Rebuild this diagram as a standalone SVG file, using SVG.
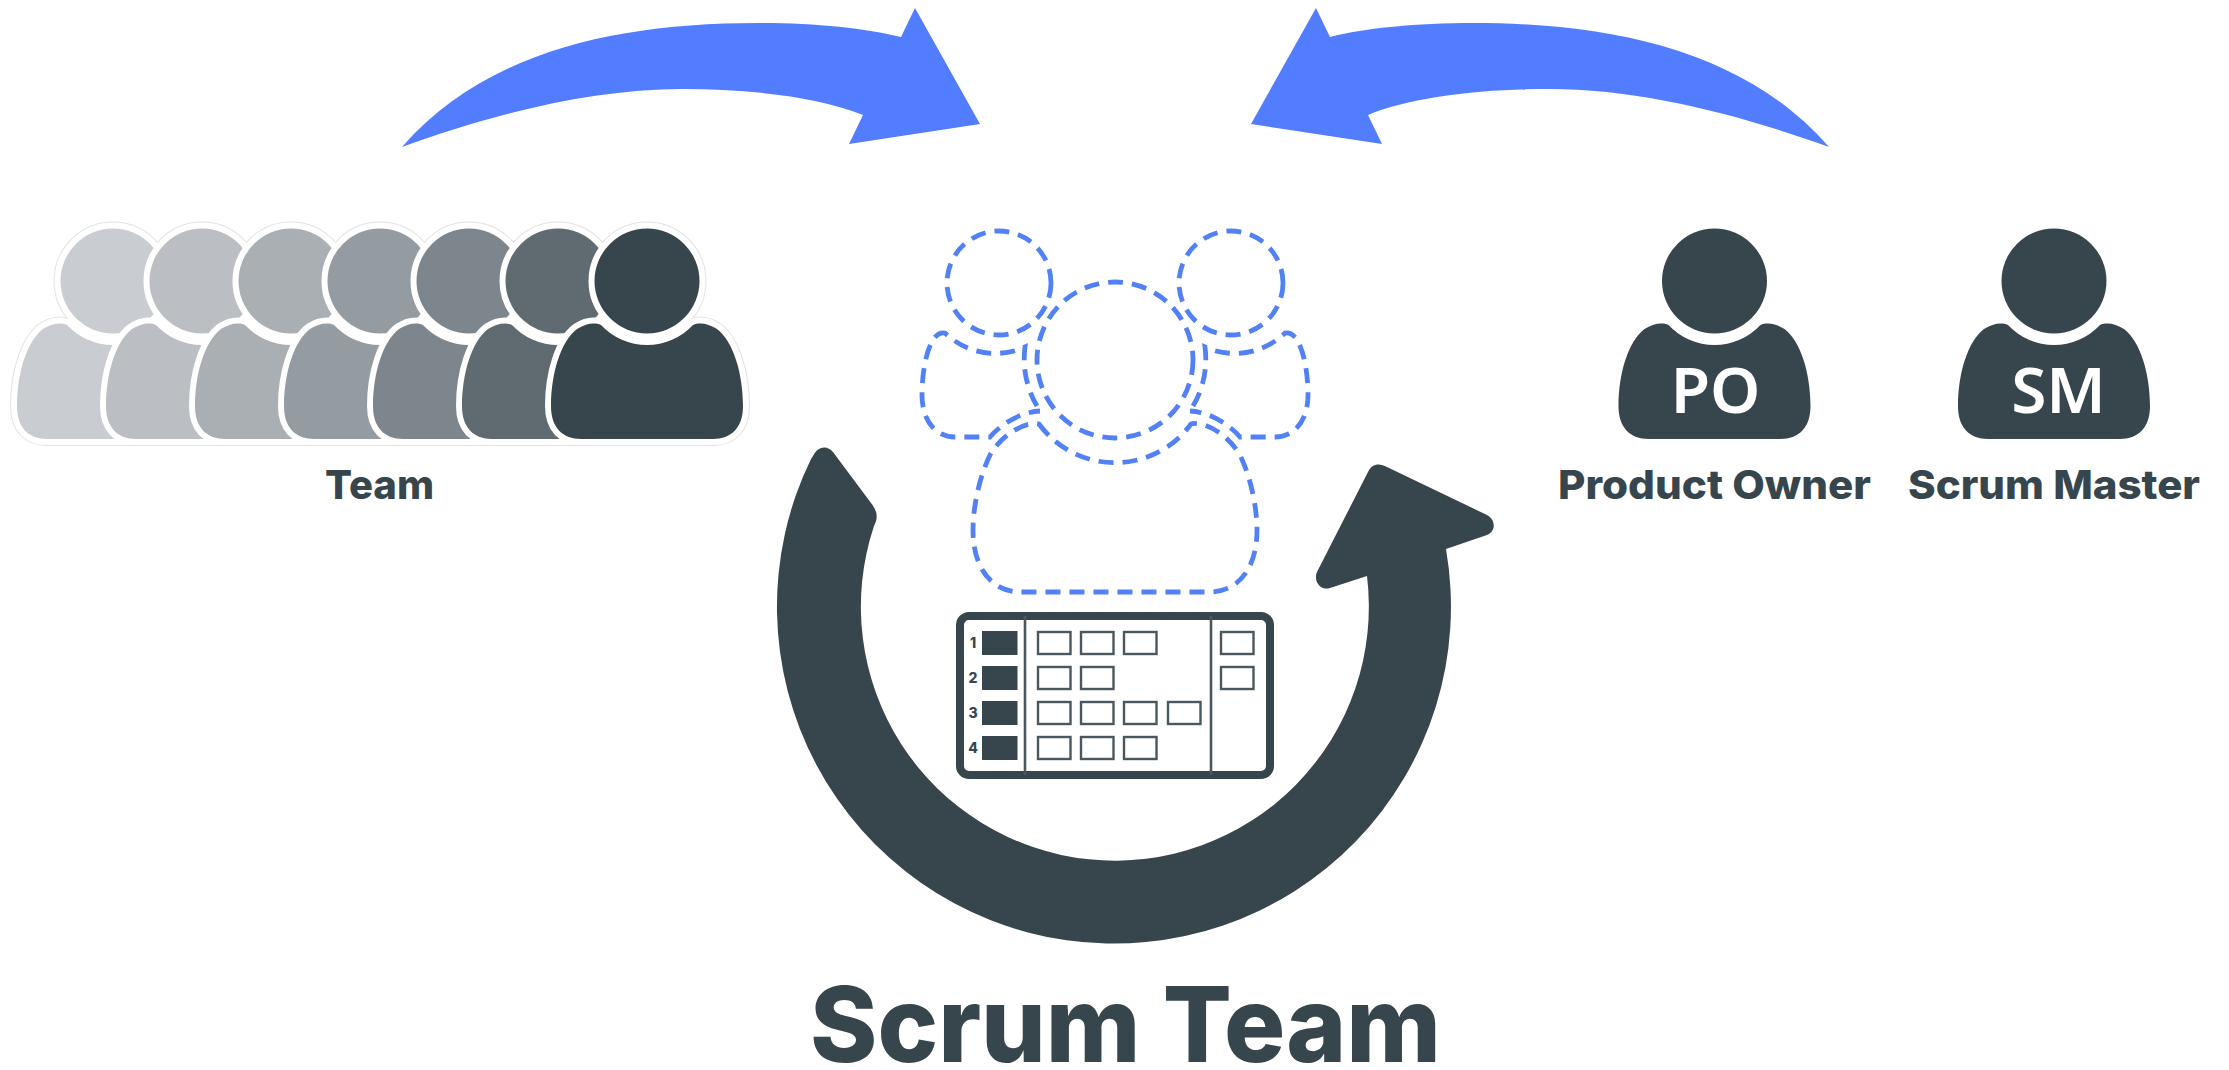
<svg xmlns="http://www.w3.org/2000/svg" width="2229" height="1070" viewBox="0 0 2229 1070">
<style>
.lbl{font-family:"Inter","Lato","Liberation Sans",sans-serif;font-weight:800;fill:#37454d}
.ini{font-family:"Noto Sans","Open Sans",sans-serif;font-weight:600;font-size:64px;fill:#fff;text-anchor:middle}
.dash{fill:none;stroke:#5280f5;stroke-width:4.8;stroke-dasharray:15 9}
.blue{fill:#527dff}
.dark{fill:#37454d}
.halo{stroke:#fff;stroke-width:12;stroke-linejoin:round;paint-order:stroke fill}
.edge{stroke:#e2e3e5;stroke-width:14;stroke-linejoin:round;fill:#fff;paint-order:stroke fill}
.cell{fill:#fff;stroke:#4b575f;stroke-width:2.4}
.num{font-family:"Inter","Liberation Sans",sans-serif;font-weight:800;font-size:14px;fill:#37454d;text-anchor:middle}
</style>
<defs>
<g id="person">
<circle cx="0" cy="0" r="52.5"/>
<path d="M-46,44 A63,63 0 0 0 46,44 C53,41 62,43 70,48 C86,60 96,92 96,125 C96,147 84,158 66,158 L-66,158 C-84,158 -96,147 -96,125 C-96,92 -86,60 -70,48 C-62,43 -53,41 -46,44Z"/>
</g>
</defs>
<rect width="2229" height="1070" fill="#fff"/>
<g id="connectors">
<path id="arrow-team" class="blue" d="M402,147 C485,52 615,23 758,23 C815,23 865,28 901,37 L915,8 L980,124 L849,144 L863,115 C820,97 750,89 682,89 C590,89 490,115 402,147Z"/>
<path id="arrow-roles" class="blue" d="M1829,147 C1746,52 1616,23 1473,23 C1416,23 1366,28 1330,37 L1316,8 L1251,124 L1382,144 L1368,115 C1411,97 1481,89 1549,89 C1641,89 1741,115 1829,147Z"/>
<path id="cycle-arrow" class="dark" d="M813,456 C818,446 827,445 833,452 L871,503 C878,512 878,518 874,526 A254,254 0 1 0 1367,576 L1330,588 C1320,591 1312,580 1318,570 L1368,472 C1372,463 1380,463 1387,467 L1487,515 C1496,520 1496,531 1487,535 L1446,549 A337,337 0 1 1 811,459 Z"/>
</g>
<g id="team">
<g id="team-edge" class="edge">
<use href="#person" x="113" y="281"/><use href="#person" x="202" y="281"/><use href="#person" x="291" y="281"/><use href="#person" x="380" y="281"/><use href="#person" x="469" y="281"/><use href="#person" x="558" y="281"/><use href="#person" x="647" y="281"/>
</g>
<g id="member-1" class="halo" fill="#c9ccd1"><use href="#person" x="113" y="281"/></g>
<g id="member-2" class="halo" fill="#bbbec3"><use href="#person" x="202" y="281"/></g>
<g id="member-3" class="halo" fill="#aaafb4"><use href="#person" x="291" y="281"/></g>
<g id="member-4" class="halo" fill="#949ba1"><use href="#person" x="380" y="281"/></g>
<g id="member-5" class="halo" fill="#7e868d"><use href="#person" x="469" y="281"/></g>
<g id="member-6" class="halo" fill="#5f6a71"><use href="#person" x="558" y="281"/></g>
<g id="member-7" class="halo" fill="#37454d"><use href="#person" x="647" y="281"/></g>
<text class="lbl" x="325" y="499" font-size="40" textLength="109" lengthAdjust="spacingAndGlyphs">Team</text>
</g>
<g id="product-owner">
<use href="#person" x="1714.5" y="281" class="dark"/>
<text class="ini" x="1715.5" y="413">PO</text>
<text class="lbl" x="1558" y="499" font-size="40" textLength="313" lengthAdjust="spacingAndGlyphs">Product Owner</text>
</g>
<g id="scrum-master">
<use href="#person" x="2054" y="281" class="dark"/>
<text class="ini" x="2058.5" y="413">SM</text>
<text class="lbl" x="1908" y="499" font-size="40" textLength="292" lengthAdjust="spacingAndGlyphs">Scrum Master</text>
</g>
<g id="scrum-team-figure">
<circle class="dash" cx="999" cy="283" r="52"/>
<circle class="dash" cx="1231" cy="283" r="52"/>
<circle class="dash" cx="1115" cy="360" r="78"/>
<path id="side" class="dash" d="M1037,406 A92,92 0 0 1 1025,347 A72,72 0 0 1 945,333 C930,330 922,365 922,395 C922,420 935,437 955,437 L990,437 C1000,425 1020,412 1040,411"/>
<use href="#side" transform="translate(2230,0) scale(-1,1)"/>
<path class="dash" d="M1039,424 A94,94 0 0 0 1191,424 C1200,421 1225,430 1240,455 C1252,480 1257,510 1257,530 C1257,572 1235,592 1210,592 L1020,592 C995,592 973,572 973,530 C973,510 978,480 990,455 C1005,430 1030,421 1039,424Z"/>
</g>
<g id="board">
<rect x="960" y="616" width="310" height="159" rx="9" fill="#fff" stroke="#37454d" stroke-width="8"/>
<path d="M1025,616V775M1211,616V775" stroke="#4b575f" stroke-width="2.6" fill="none"/>
<rect class="dark" x="982" y="631" width="35.500" height="24"/><rect class="dark" x="982" y="666" width="35.500" height="24"/><rect class="dark" x="982" y="701" width="35.500" height="24"/><rect class="dark" x="982" y="736" width="35.500" height="24"/>
<text class="num" x="973" y="648">1</text><text class="num" x="973" y="683">2</text><text class="num" x="973" y="718">3</text><text class="num" x="973" y="753">4</text>
<rect class="cell" x="1038" y="632" width="32.500" height="22"/><rect class="cell" x="1081" y="632" width="32.500" height="22"/><rect class="cell" x="1124" y="632" width="32.500" height="22"/>
<rect class="cell" x="1038" y="667" width="32.500" height="22"/><rect class="cell" x="1081" y="667" width="32.500" height="22"/>
<rect class="cell" x="1038" y="702" width="32.500" height="22"/><rect class="cell" x="1081" y="702" width="32.500" height="22"/><rect class="cell" x="1124" y="702" width="32.500" height="22"/><rect class="cell" x="1168" y="702" width="32.500" height="22"/>
<rect class="cell" x="1038" y="737" width="32.500" height="22"/><rect class="cell" x="1081" y="737" width="32.500" height="22"/><rect class="cell" x="1124" y="737" width="32.500" height="22"/>
<rect class="cell" x="1221" y="632" width="32.500" height="22"/><rect class="cell" x="1221" y="667" width="32.500" height="22"/>
</g>
<g id="title">
<text class="lbl" x="810" y="1062" font-size="105" textLength="631" lengthAdjust="spacingAndGlyphs">Scrum Team</text>
</g>
</svg>
